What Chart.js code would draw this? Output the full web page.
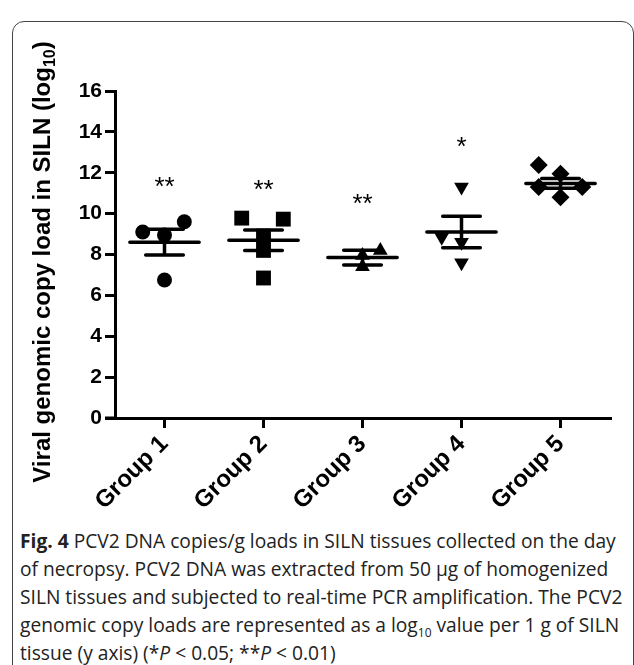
<!DOCTYPE html>
<html>
<head>
<meta charset="utf-8">
<script src="https://cdn.jsdelivr.net/npm/chart.js@4.4.0/dist/chart.umd.min.js"></script>
<style>
  html, body { margin: 0; padding: 0; background: #fff; overflow: hidden; }
  #card {
    position: absolute; left: 12px; top: 21px; width: 620px; height: 660px;
    border: 1.5px solid #444; border-radius: 12px;
  }
  #plot { position: absolute; left: 0; top: 0; }
  #caption {
    position: absolute; left: 20px; top: 527px;
    font-family: "Open Sans", sans-serif; font-size: 19.2px; line-height: 28px;
    color: #222; white-space: nowrap;
  }
  #caption sub { font-size: 12px; line-height: 0; }
</style>
</head>
<body>
<div id="card"></div>
<canvas id="plot" width="634" height="525"></canvas>
<div id="caption">
<b>Fig. 4</b> PCV2 DNA copies/g loads in SILN tissues collected on the day<br>
of necropsy. PCV2 DNA was extracted from 50 µg of homogenized<br>
SILN tissues and subjected to real-time PCR amplification. The PCV2<br>
genomic copy loads are represented as a log<sub>10</sub> value per 1 g of SILN<br>
tissue (y axis) (*<i>P</i> &lt; 0.05; **<i>P</i> &lt; 0.01)
</div>
<script>
// Categories
const groups = ['Group 1', 'Group 2', 'Group 3', 'Group 4', 'Group 5'];

// Individual animals (log10 copies/g)
const group1 = [9.1, 8.95, 9.6, 6.75];
const group2 = [9.78, 9.73, 8.9, 8.2, 6.85];
const group3 = [8.2, 7.95, 7.4];
const group4 = [11.3, 8.85, 8.6, 7.6];
const group5 = [12.38, 11.95, 11.3, 11.3, 10.8];

// horizontal scatter of the dots inside each column (category units)
const spread1 = [-0.22, 0, 0.2, 0];
const spread2 = [-0.22, 0.2, 0, 0, 0];
const spread3 = [0.18, 0, 0];
const spread4 = [0, -0.2, 0, 0];
const spread5 = [-0.22, 0, -0.22, 0.22, 0];

// mean +/- SEM
const means = [8.6, 8.7, 7.85, 9.1, 11.48];
const sems = [0.63, 0.5, 0.36, 0.77, 0.24];

// significance marks
const stars = ['**', '**', '**', '*', ''];
const starHeights = [11.65, 11.5, 10.8, 13.6, 0];

const yTicks = [0, 2, 4, 6, 8, 10, 12, 14, 16];

const values = [group1, group2, group3, group4, group5];
const spreads = [spread1, spread2, spread3, spread4, spread5];
const markers = [
    { style: 'circle', radius: 7.5, rotation: 0 },
    { style: 'rect', radius: 10.5, rotation: 0 },
    { style: 'triangle', radius: 8.5, rotation: 0 },
    { style: 'triangle', radius: 8.5, rotation: 180 },
    { style: 'rectRot', radius: 9, rotation: 0 },
];

const MEAN_HALF = 0.35;
const CAP_HALF = 0.19;

// Mean and SEM bars, segments separated by null points
const barPoints = [];
means.forEach((m, i) => {
    const c = i + 1;
    const up = m + sems[i];
    const lo = m - sems[i];
    barPoints.push({ x: c - MEAN_HALF, y: m }, { x: c + MEAN_HALF, y: m }, { x: c, y: null });
    barPoints.push({ x: c - CAP_HALF, y: up }, { x: c + CAP_HALF, y: up }, { x: c, y: null });
    barPoints.push({ x: c, y: up }, { x: c, y: lo }, { x: c, y: null });
    barPoints.push({ x: c - CAP_HALF, y: lo }, { x: c + CAP_HALF, y: lo }, { x: c, y: null });
});

const datasets = values.map((vals, i) => ({
    label: groups[i],
    data: vals.map((v, j) => ({ x: i + 1 + spreads[i][j], y: v })),
    pointStyle: markers[i].style,
    pointRadius: markers[i].radius,
    pointRotation: markers[i].rotation,
    backgroundColor: '#000',
    borderColor: '#000',
    borderWidth: 0,
}));

datasets.push({
    type: 'line',
    label: 'mean',
    data: barPoints,
    borderColor: '#000',
    borderWidth: 3.5,
    borderCapStyle: 'round',
    pointRadius: 0,
    spanGaps: false,
    fill: false,
});

// y title with subscript, asterisks, and the x axis stub left of the y axis
const annotate = {
    id: 'annotate',
    afterDraw(chart) {
        const { ctx, chartArea, scales: { x, y } } = chart;
        ctx.save();
        ctx.strokeStyle = '#000';
        ctx.lineWidth = 3;
        ctx.beginPath();
        ctx.moveTo(chartArea.left - 10, chartArea.bottom);
        ctx.lineTo(chartArea.left, chartArea.bottom);
        ctx.stroke();

        ctx.fillStyle = '#000';
        ctx.textAlign = 'center';
        ctx.textBaseline = 'alphabetic';
        ctx.font = '26px Arial';
        stars.forEach((s, i) => {
            if (!s) return;
            ctx.fillText(s, x.getPixelForValue(i + 1), y.getPixelForValue(starHeights[i]) + 15);
        });

        const main = 'Viral genomic copy load in SILN (log';
        const sub = '10';
        const tail = ')';
        ctx.translate(50, 262);
        ctx.rotate(-Math.PI / 2);
        ctx.textAlign = 'left';
        ctx.font = 'bold 24px Arial';
        const w1 = ctx.measureText(main).width;
        const w3 = ctx.measureText(tail).width;
        ctx.font = 'bold 16px Arial';
        const w2 = ctx.measureText(sub).width;
        let pos = -(w1 + w2 + w3) / 2;
        ctx.font = 'bold 24px Arial';
        ctx.fillText(main, pos, 0);
        pos += w1;
        ctx.font = 'bold 16px Arial';
        ctx.fillText(sub, pos, 5);
        pos += w2;
        ctx.font = 'bold 24px Arial';
        ctx.fillText(tail, pos, 0);
        ctx.restore();
    }
};

const ctx = document.getElementById('plot').getContext('2d');
const chart = new Chart(ctx, {
    type: 'scatter',
    data: { datasets: datasets },
    options: {
        responsive: false,
        animation: false,
        layout: { padding: { top: 91, right: 24, left: 0, bottom: 0 } },
        plugins: {
            legend: { display: false },
            tooltip: { enabled: false },
        },
        scales: {
            x: {
                type: 'linear',
                min: 0.5,
                max: 5.5,
                afterBuildTicks: (scale) => {
                    scale.ticks = groups.map((g, i) => ({ value: i + 1 }));
                },
                ticks: {
                    callback: (v) => groups[v - 1],
                    minRotation: 45,
                    maxRotation: 45,
                    color: '#000',
                    padding: 2,
                    font: { family: 'Arial', weight: 'bold', size: 24 },
                },
                grid: { drawOnChartArea: false, drawTicks: true, tickLength: 10, lineWidth: 3, color: '#000' },
                border: { display: true, color: '#000', width: 3 },
                afterFit: (scale) => { scale.height = 107; },
            },
            y: {
                min: 0,
                max: 16,
                afterBuildTicks: (scale) => {
                    scale.ticks = yTicks.map(v => ({ value: v }));
                },
                ticks: {
                    color: '#000',
                    padding: 3,
                    font: { family: 'Arial', weight: 'bold', size: 21 },
                },
                grid: { drawOnChartArea: false, drawTicks: true, tickLength: 10, lineWidth: 3, color: '#000' },
                border: { display: true, color: '#000', width: 3 },
                afterFit: (scale) => { scale.width = 115; },
            },
        },
    },
    plugins: [annotate],
});
</script>
</body>
</html>
